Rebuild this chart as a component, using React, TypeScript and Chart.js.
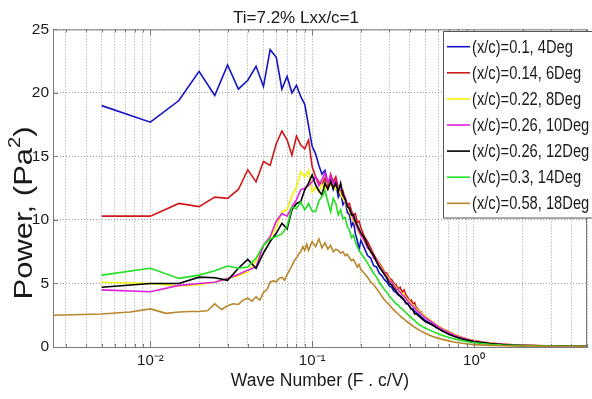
import React, { useEffect, useRef } from 'react';
import { Chart, registerables } from 'chart.js';

Chart.register(...registerables);

const titleText = 'Ti=7.2% Lxx/c=1';
const xAxisTitle = 'Wave Number (F . c/V)';
const yTitleMain = 'Power, (Pa';
const yTitleSup = '2';
const yTitleEnd = ')';

const seriesLabels = [
  '(x/c)=0.1, 4Deg',
  '(x/c)=0.14, 6Deg',
  '(x/c)=0.22, 8Deg',
  '(x/c)=0.26, 10Deg',
  '(x/c)=0.26, 12Deg',
  '(x/c)=0.3, 14Deg',
  '(x/c)=0.58, 18Deg',
];
const seriesColors = ['#1414c4', '#d01818', '#f4f400', '#e020e0', '#000000', '#22e022', '#b8862b'];

const xMin = 0.0025;
const xMax = 5;
const xMajorTicks = [0.01, 0.1, 1];
const xMajorLabels = ['10⁻²', '10⁻¹', '10⁰'];
const xMinorTicks = [
  0.003, 0.004, 0.005, 0.006, 0.007, 0.008, 0.009,
  0.02, 0.03, 0.04, 0.05, 0.06, 0.07, 0.08, 0.09,
  0.2, 0.3, 0.4, 0.5, 0.6, 0.7, 0.8, 0.9,
  2, 3, 4, 5,
];
const yMin = 0;
const yMax = 25;
const yStep = 5;

const freqMain = [
  0.005, 0.01, 0.015, 0.02, 0.025, 0.03, 0.035, 0.04, 0.045, 0.05,
  0.055, 0.06, 0.065, 0.07, 0.075, 0.08, 0.085, 0.09, 0.095, 0.1,
  0.105, 0.11, 0.115, 0.12, 0.125, 0.13, 0.135, 0.14, 0.145, 0.15,
  0.155, 0.16, 0.165, 0.17, 0.175, 0.18, 0.185, 0.19, 0.195, 0.2,
  0.21, 0.22, 0.23, 0.24, 0.25, 0.26, 0.27, 0.28, 0.29, 0.3,
  0.31, 0.32, 0.33, 0.34, 0.35, 0.36, 0.37, 0.38, 0.39, 0.4,
  0.41, 0.42, 0.43, 0.44, 0.45, 0.46, 0.47, 0.48, 0.49, 0.5,
  0.55, 0.6, 0.65, 0.7, 0.75, 0.8, 0.85, 0.9, 0.95, 1.0,
  1.25, 1.5, 1.75, 2, 2.25, 2.5, 2.75, 3, 3.25, 3.5, 3.75, 4, 4.25, 4.5, 4.75, 5,
];

const freqBrown = [
  0.0025, 0.005, 0.0075, 0.01, 0.0125, 0.015, 0.0175, 0.02, 0.0225, 0.025,
  0.0275, 0.03, 0.0325, 0.035, 0.0375, 0.04, 0.0425, 0.045, 0.0475, 0.05,
  0.0525, 0.055, 0.0575, 0.06, 0.0625, 0.065, 0.0675, 0.07, 0.0725, 0.075,
  0.0775, 0.08, 0.0825, 0.085, 0.0875, 0.09, 0.0925, 0.095, 0.0975, 0.1,
  0.105, 0.11, 0.115, 0.12, 0.125, 0.13, 0.135, 0.14, 0.145, 0.15,
  0.155, 0.16, 0.165, 0.17, 0.175, 0.18, 0.185, 0.19, 0.195, 0.2,
  0.21, 0.22, 0.23, 0.24, 0.25, 0.26, 0.27, 0.28, 0.29, 0.3,
  0.31, 0.32, 0.33, 0.34, 0.35, 0.36, 0.37, 0.38, 0.39, 0.4,
  0.41, 0.42, 0.43, 0.44, 0.45, 0.46, 0.47, 0.48, 0.49, 0.5,
  0.55, 0.6, 0.65, 0.7, 0.75, 0.8, 0.85, 0.9, 0.95, 1.0,
  1.25, 1.5, 1.75, 2, 2.25, 2.5, 2.75, 3, 3.25, 3.5, 3.75, 4, 4.25, 4.5, 4.75, 5,
];

const powerDeg4 = [
  19.0, 17.7, 19.4, 21.7, 19.8, 22.2, 20.3, 21.0, 22.1, 20.5,
  23.4, 22.8, 20.3, 21.3, 20.0, 20.6, 19.7, 19.1, 17.4, 15.8,
  15.2, 14.3, 13.6, 13.9, 12.9, 13.3, 12.4, 12.9, 11.8, 12.2,
  11.2, 11.5, 10.6, 10.4, 9.5, 9.9, 8.9, 8.4, 7.7, 8.4,
  7.8, 7.2, 7.0, 6.4, 6.3, 5.8, 5.6, 5.3, 5.1, 4.8,
  4.7, 4.4, 4.3, 4.1, 4.0, 3.8, 3.7, 3.4, 3.4, 3.2,
  3.0, 3.0, 2.8, 2.7, 2.6, 2.5, 2.4, 2.3, 2.2, 2.1,
  1.8, 1.5, 1.25, 1.05, 0.88, 0.75, 0.64, 0.56, 0.49, 0.43,
  0.28, 0.2, 0.16, 0.13, 0.11, 0.1, 0.09, 0.08, 0.08, 0.07, 0.07, 0.06, 0.06, 0.06, 0.05, 0.05,
];

const powerDeg6 = [
  10.3, 10.3, 11.3, 11.05, 11.8, 11.7, 12.4, 13.95, 13.0, 14.6,
  14.3, 16.0, 17.0, 16.3, 15.1, 16.6, 15.9, 15.6, 16.3, 14.2,
  13.4, 13.0, 12.8, 13.3, 12.6, 13.6, 13.0, 13.4, 12.6, 12.2,
  12.3, 11.6, 11.2, 11.3, 10.7, 10.4, 10.5, 9.8, 9.9, 9.4,
  8.7, 8.3, 7.8, 7.3, 6.9, 6.6, 6.3, 5.9, 5.8, 5.4,
  5.3, 5.0, 4.9, 4.6, 4.7, 4.3, 4.5, 4.1, 3.9, 3.6,
  3.7, 3.4, 3.5, 3.1, 3.0, 2.8, 2.8, 2.6, 2.5, 2.4,
  2.0, 1.65, 1.4, 1.2, 1.0, 0.86, 0.74, 0.64, 0.56, 0.5,
  0.32, 0.23, 0.18, 0.15, 0.13, 0.11, 0.1, 0.09, 0.09, 0.08, 0.08, 0.07, 0.07, 0.07, 0.06, 0.06,
];

const powerDeg8 = [
  5.1, 5.0, 4.8, 4.9, 5.1, 5.4, 5.6, 5.9, 6.8, 8.0,
  8.6, 9.4, 10.65, 10.8, 11.9, 12.6, 13.8, 13.4, 13.9, 12.2,
  12.6, 12.2, 12.8, 12.4, 13.1, 12.7, 12.9, 12.4, 12.6, 12.0,
  11.7, 11.4, 11.0, 10.7, 10.2, 9.9, 9.7, 9.3, 8.9, 8.8,
  8.3, 7.9, 7.5, 7.1, 6.8, 6.5, 6.2, 5.8, 5.6, 5.3,
  5.1, 4.9, 4.7, 4.5, 4.4, 4.2, 4.1, 3.9, 3.7, 3.6,
  3.4, 3.3, 3.2, 3.0, 2.9, 2.8, 2.7, 2.6, 2.5, 2.4,
  2.0, 1.65, 1.38, 1.17, 0.99, 0.85, 0.73, 0.63, 0.55, 0.49,
  0.31, 0.22, 0.17, 0.14, 0.12, 0.11, 0.1, 0.09, 0.08, 0.08, 0.07, 0.07, 0.07, 0.06, 0.06, 0.06,
];

const powerDeg10 = [
  4.5, 4.35, 4.85, 5.0, 5.1, 5.4, 5.7, 6.05, 6.3, 8.0,
  8.7, 9.9, 10.5, 10.3, 11.05, 11.6, 12.37, 12.5, 12.7, 13.0,
  13.4, 12.7, 13.2, 13.7, 12.9, 13.5, 12.8, 13.1, 12.4, 12.6,
  11.9, 11.8, 11.2, 10.9, 10.5, 10.1, 9.8, 9.4, 9.1, 8.8,
  8.4, 7.8, 7.6, 7.0, 6.8, 6.4, 6.1, 5.8, 5.5, 5.2,
  5.1, 4.8, 4.6, 4.5, 4.3, 4.1, 4.0, 3.8, 3.6, 3.5,
  3.3, 3.2, 3.1, 2.9, 2.8, 2.7, 2.6, 2.5, 2.4, 2.3,
  1.95, 1.6, 1.33, 1.12, 0.95, 0.81, 0.7, 0.61, 0.53, 0.47,
  0.3, 0.21, 0.16, 0.13, 0.11, 0.1, 0.09, 0.08, 0.08, 0.07, 0.07, 0.06, 0.06, 0.06, 0.06, 0.05,
];

const powerDeg12 = [
  4.7, 5.0, 5.0, 5.5, 5.45, 5.25, 6.2, 6.9, 6.2, 7.4,
  8.3, 8.95, 9.74, 9.3, 10.8, 11.3, 11.45, 12.37, 12.9, 13.55,
  12.76, 12.3, 11.97, 12.9, 12.4, 13.0, 12.5, 12.9, 12.2, 12.9,
  12.0, 11.6, 11.05, 10.9, 10.4, 10.4, 9.9, 9.6, 9.3, 9.0,
  8.6, 8.0, 7.5, 7.2, 6.7, 6.3, 6.0, 5.7, 5.4, 5.0,
  4.9, 4.6, 4.4, 4.2, 4.0, 3.9, 3.7, 3.5, 3.4, 3.2,
  3.0, 2.9, 2.6, 2.6, 2.5, 2.4, 2.3, 2.2, 2.1, 2.0,
  1.75, 1.45, 1.2, 1.0, 0.85, 0.73, 0.63, 0.55, 0.48, 0.43,
  0.27, 0.19, 0.15, 0.12, 0.1, 0.09, 0.08, 0.08, 0.07, 0.07, 0.06, 0.06, 0.06, 0.05, 0.05, 0.05,
];

const powerDeg14 = [
  5.66, 6.2, 5.4, 5.66, 6.0, 6.37, 6.2, 6.3, 7.0, 8.0,
  8.5, 8.7, 8.9, 9.5, 11.0, 10.9, 11.4, 10.8, 11.3, 10.7,
  10.65, 11.5, 11.84, 12.3, 11.45, 10.65, 11.7, 11.3, 10.4, 10.8,
  10.1, 10.2, 9.5, 9.2, 8.6, 8.8, 8.3, 7.9, 7.6, 7.4,
  7.0, 6.6, 6.2, 5.8, 5.5, 5.1, 4.8, 4.5, 4.3, 4.0,
  3.8, 3.6, 3.4, 3.3, 3.1, 3.0, 2.85, 2.7, 2.55, 2.45,
  2.3, 2.2, 2.1, 1.95, 1.85, 1.75, 1.7, 1.6, 1.55, 1.5,
  1.25, 1.05, 0.88, 0.75, 0.65, 0.56, 0.49, 0.43, 0.38, 0.34,
  0.22, 0.16, 0.13, 0.11, 0.09, 0.08, 0.07, 0.07, 0.06, 0.06, 0.05, 0.05, 0.05, 0.05, 0.04, 0.04,
];

const powerDeg18 = [
  2.5, 2.6, 2.75, 3.0, 2.65, 2.75, 2.8, 2.8, 2.85, 3.4,
  2.95, 3.25, 3.4, 3.35, 3.7, 3.85, 3.6, 3.95, 3.7, 4.3,
  4.5, 5.1, 5.2, 5.13, 5.4, 5.5, 5.26, 5.7, 6.05, 6.4,
  6.8, 7.0, 7.3, 7.5, 7.9, 7.6, 8.1, 7.6, 8.0, 8.3,
  7.9, 8.5, 7.8, 8.2, 7.7, 8.0, 7.5, 7.7, 7.6, 7.4,
  7.5, 7.2, 7.3, 7.0, 6.8, 6.9, 6.6, 6.3, 6.5, 6.1,
  5.8, 5.5, 5.1, 4.9, 4.6, 4.3, 4.0, 3.7, 3.5, 3.3,
  3.1, 2.9, 2.75, 2.6, 2.45, 2.3, 2.2, 2.05, 1.95, 1.85,
  1.75, 1.65, 1.55, 1.48, 1.4, 1.33, 1.25, 1.2, 1.13, 1.08,
  0.85, 0.7, 0.58, 0.48, 0.4, 0.34, 0.29, 0.25, 0.22, 0.19,
  0.13, 0.1, 0.08, 0.07, 0.06, 0.06, 0.05, 0.05, 0.05, 0.04, 0.04, 0.04, 0.04, 0.04, 0.03, 0.03,
];

const seriesX = [freqMain, freqMain, freqMain, freqMain, freqMain, freqMain, freqBrown];
const seriesY = [powerDeg4, powerDeg6, powerDeg8, powerDeg10, powerDeg12, powerDeg14, powerDeg18];

const SANS = '"Liberation Sans", Arial, Helvetica, sans-serif';
const TEXT_COLOR = '#1a1a1a';
const AXIS_COLOR = '#7a7a7a';
const CONDENSE = 0.84;

const decorPlugin = {
  id: 'decor',
  afterDatasetsDraw(chart: any) {
    const { ctx, chartArea, scales } = chart;
    const { left, top, right, bottom } = chartArea;
    ctx.save();
    ctx.strokeStyle = AXIS_COLOR;
    ctx.lineWidth = 1;
    ctx.setLineDash([]);
    ctx.beginPath();
    ctx.moveTo(left, top + 0.5);
    ctx.lineTo(right, top + 0.5);
    ctx.moveTo(right - 0.5, top);
    ctx.lineTo(right - 0.5, bottom);
    ctx.stroke();

    // inward tick marks (MATLAB style)
    ctx.beginPath();
    scales.x.ticks.forEach((t: any) => {
      const px = Math.round(scales.x.getPixelForValue(t.value)) + 0.5;
      const len = xMajorTicks.includes(t.value) ? 6 : 3;
      ctx.moveTo(px, bottom);
      ctx.lineTo(px, bottom - len);
      ctx.moveTo(px, top);
      ctx.lineTo(px, top + len);
    });
    scales.y.ticks.forEach((t: any) => {
      const py = Math.round(scales.y.getPixelForValue(t.value)) + 0.5;
      ctx.moveTo(left, py);
      ctx.lineTo(left + 5, py);
    });
    ctx.stroke();

    // legend box
    const boxX = 443.5;
    const boxY = 31.5;
    const boxW = 160;
    const boxH = 186.5;
    ctx.fillStyle = '#ffffff';
    ctx.fillRect(boxX, boxY, boxW, boxH);
    ctx.strokeStyle = '#555555';
    ctx.strokeRect(boxX, boxY, boxW, boxH);
    chart.data.datasets.forEach((ds: any, i: number) => {
      const cy = 46.7 + i * 26.1;
      ctx.strokeStyle = ds.borderColor;
      ctx.lineWidth = 1.6;
      ctx.beginPath();
      ctx.moveTo(447, cy);
      ctx.lineTo(470, cy);
      ctx.stroke();
      ctx.save();
      ctx.translate(472, cy + 1);
      ctx.scale(CONDENSE, 1);
      ctx.font = '17.5px ' + SANS;
      ctx.textBaseline = 'middle';
      ctx.textAlign = 'left';
      ctx.fillStyle = TEXT_COLOR;
      ctx.fillText(ds.label, 0, 0);
      ctx.restore();
    });

    // y-axis title with superscript
    ctx.save();
    ctx.translate(23, 213);
    ctx.rotate(-Math.PI / 2);
    ctx.scale(1, CONDENSE);
    ctx.fillStyle = TEXT_COLOR;
    ctx.textBaseline = 'middle';
    ctx.textAlign = 'left';
    const mainFont = '31px ' + SANS;
    const supFont = '20px ' + SANS;
    ctx.font = mainFont;
    const w1 = ctx.measureText(yTitleMain).width;
    ctx.font = supFont;
    const w2 = ctx.measureText(yTitleSup).width;
    ctx.font = mainFont;
    const w3 = ctx.measureText(yTitleEnd).width;
    const total = w1 + w2 + w3;
    const x0 = -total / 2;
    ctx.fillText(yTitleMain, x0, 2);
    ctx.font = supFont;
    ctx.fillText(yTitleSup, x0 + w1, -9);
    ctx.font = mainFont;
    ctx.fillText(yTitleEnd, x0 + w1 + w2, 2);
    ctx.restore();

    ctx.restore();
  },
};

export default function App() {
  const canvasRef = useRef<HTMLCanvasElement | null>(null);

  useEffect(() => {
    if (!canvasRef.current) return;
    const datasets = seriesLabels.map((label, i) => ({
      label,
      data: seriesX[i].map((x, j) => ({ x, y: seriesY[i][j] })),
      borderColor: seriesColors[i],
      backgroundColor: seriesColors[i],
      borderWidth: 1.6,
      pointRadius: 0,
      fill: false,
      tension: 0,
      order: seriesLabels.length - i,
    }));
    const allXTicks = [...xMajorTicks, ...xMinorTicks].sort((a, b) => a - b);

    const chart = new Chart(canvasRef.current, {
      type: 'line',
      data: { datasets },
      plugins: [decorPlugin],
      options: {
        animation: false,
        responsive: false,
        events: [],
        layout: { padding: 0 },
        plugins: {
          legend: { display: false },
          tooltip: { enabled: false },
          title: {
            display: true,
            text: titleText,
            color: TEXT_COLOR,
            font: { family: SANS, size: 17, weight: 'normal' },
            padding: { top: 8, bottom: 1 },
          },
        },
        scales: {
          x: {
            type: 'logarithmic',
            min: xMin,
            max: xMax,
            afterBuildTicks: (scale: any) => {
              scale.ticks = allXTicks.map((v) => ({ value: v }));
            },
            afterFit: (scale: any) => {
              scale.height = 52;
            },
            ticks: {
              autoSkip: false,
              maxRotation: 0,
              padding: 5,
              color: TEXT_COLOR,
              font: { family: SANS, size: 15 },
              callback: (value: any) => {
                const idx = xMajorTicks.indexOf(Number(value));
                return idx >= 0 ? xMajorLabels[idx] : '';
              },
            },
            grid: { color: '#9c9c9c', drawTicks: false, lineWidth: 1 },
            border: { color: AXIS_COLOR, dash: [1, 2] },
            title: {
              display: true,
              text: xAxisTitle,
              color: TEXT_COLOR,
              font: { family: SANS, size: 17.5 },
              padding: { top: 0, bottom: 7 },
            },
          },
          y: {
            min: yMin,
            max: yMax,
            afterFit: (scale: any) => {
              scale.width = 53;
            },
            ticks: {
              stepSize: yStep,
              padding: 4,
              color: TEXT_COLOR,
              font: { family: SANS, size: 15.5 },
            },
            grid: { color: '#9c9c9c', drawTicks: false, lineWidth: 1 },
            border: { color: AXIS_COLOR, dash: [1, 2] },
          },
        },
      } as any,
    });
    return () => chart.destroy();
  }, []);

  return (
    <div style={{ position: 'absolute', left: 0, top: 0, width: 592, height: 399, background: '#ffffff' }}>
      <canvas ref={canvasRef} width={592} height={399} />
    </div>
  );
}
